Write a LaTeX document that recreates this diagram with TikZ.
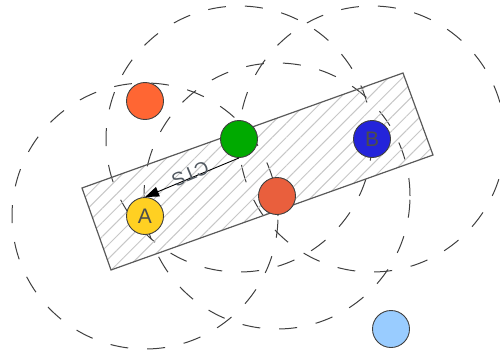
\documentclass[tikz,border=0pt]{standalone}
\usepackage{fontspec}
\setmainfont{Liberation Sans}
\usetikzlibrary{arrows.meta,patterns.meta,backgrounds}
\definecolor{stnorange}{HTML}{FF6633}
\definecolor{stngreen}{HTML}{00AA00}
\definecolor{stnblue}{HTML}{2424DA}
\definecolor{stnred}{HTML}{E95F3D}
\definecolor{stnyellow}{HTML}{FFD022}
\definecolor{stnsky}{HTML}{99CCFF}
\definecolor{labelgray}{HTML}{505860}

\begin{document}
\begin{tikzpicture}[x=1pt,y=-1pt,
  stn/.style={circle,draw=black!75,line width=0.9pt,minimum size=37pt,inner sep=0pt,
              font=\fontsize{21}{21}\selectfont,text=black!70},
  reach/.style={draw=black!75,line width=1pt,dash pattern=on 18pt off 19pt},
  zone/.style={draw=black!65,line width=1.2pt,
               pattern={Lines[angle=45,distance=10pt,line width=1pt]},pattern color=black!22},
  arr/.style={-{Triangle[length=14pt,width=10pt]},line width=0.9pt}
]
\useasboundingbox (0,0) rectangle (500,353);
% stations
\node[stn,fill=stnorange] (nO) at (145,101) {};
\node[stn,fill=stngreen]  (nG) at (239,139) {};
\node[stn,fill=stnblue]   (nB) at (372,139) {B};
\node[stn,fill=stnred]    (nR) at (277,196) {};
\node[stn,fill=stnyellow] (nA) at (145,216) {A};
\node[stn,fill=stnsky]    (nL) at (391,329) {};
% ranges and the silenced zone
\begin{scope}[on background layer]
  \draw[reach] (nA) circle[radius=133pt];
  \draw[reach] (nG) circle[radius=133pt];
  \draw[reach] (nB) circle[radius=133pt];
  \draw[reach] (nR) circle[radius=133pt];
  \draw[zone] (82,188) -- (403,73) -- (433,155) -- (111,270) -- cycle;
\end{scope}
\draw[arr] (nG.south) -- node[midway,sloped,allow upside down,yshift=-4pt,
  font=\fontsize{19}{19}\selectfont,text=labelgray] {CTS} (nA.north);
\end{tikzpicture}
\end{document}
